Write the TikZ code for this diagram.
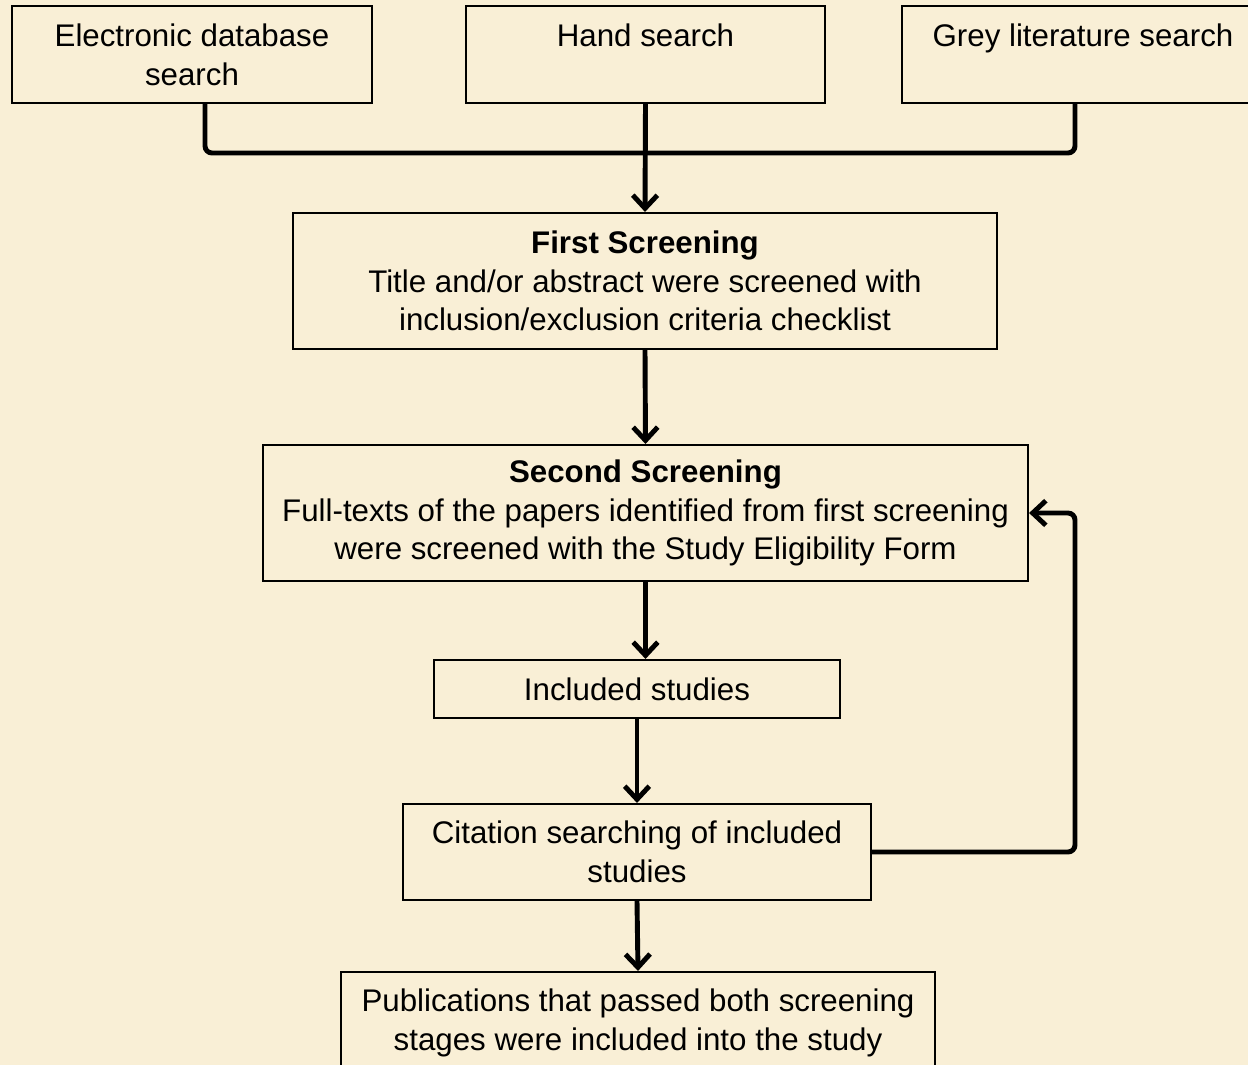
\documentclass[tikz,border=0pt]{standalone}
\usepackage{fontspec}
\setmainfont{Liberation Sans}
\usetikzlibrary{arrows.meta}
\definecolor{parch}{RGB}{249,239,214}
\tikzset{
  box/.style={draw=black, line width=1.2pt, align=center, inner sep=0pt,
    font=\fontsize{17.8}{22}\selectfont},
  conn/.style={draw=black, line width=2.8pt, rounded corners=4pt},
  arr/.style={conn, -{Straight Barb[length=7.5pt,width=14pt]}}
}
\begin{document}
\begin{tikzpicture}[x=0.02cm,y=-0.02cm]
\clip (0,0) rectangle (1248,1065);
\fill[parch] (0,0) rectangle (1248,1065);
% boxes
\node[box, minimum width=360*0.02cm, minimum height=97*0.02cm] (E) at (192,54.5) {Electronic database\\search};
\node[box, minimum width=359*0.02cm, minimum height=97*0.02cm] (H) at (645.5,54.5) {Hand search\\\phantom{search}};
\node[box, minimum width=362*0.02cm, minimum height=97*0.02cm] (G) at (1083,54.5) {Grey literature search\\\phantom{search}};
\node[box, minimum width=704*0.02cm, minimum height=136*0.02cm] (FS) at (645,281) {\textbf{First Screening}\\Title and/or abstract were screened with\\inclusion/exclusion criteria checklist};
\node[box, minimum width=765*0.02cm, minimum height=136*0.02cm] (SS) at (645.5,513) {\textbf{Second Screening}\\Full-texts of the papers identified from first screening\\were screened with the Study Eligibility Form};
\node[box, minimum width=406*0.02cm, minimum height=58*0.02cm] (IS) at (637,689) {Included studies};
\node[box, minimum width=468*0.02cm, minimum height=96*0.02cm] (CS) at (637,852) {Citation searching of included\\studies};
\node[box, minimum width=594*0.02cm, minimum height=102*0.02cm] (P) at (638,1023) {Publications that passed both screening\\stages were included into the study};
% connectors
\coordinate (jl) at (205,153);
\coordinate (jr) at (1075,153);
\coordinate (fb) at (1075,852);
\draw[conn] (E.south -| jl) -- (jl) -- (jr) -- (G.south -| jr);
\draw[arr] (H.south) -- (FS.north);
\draw[arr] (FS.south) -- (SS.north);
\draw[arr] (SS.south) -- (SS.south |- IS.north);
\draw[arr] (IS.south) -- (CS.north);
\draw[arr] (CS.south) -- (P.north);
\draw[arr] (CS.east) -- (fb) -- (fb |- SS.east) -- (SS.east);
\end{tikzpicture}
\end{document}
